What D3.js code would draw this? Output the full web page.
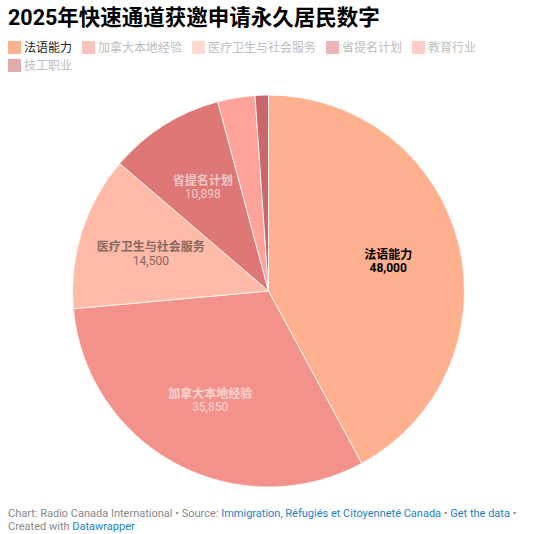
<!DOCTYPE html>
<html>
<head>
<meta charset="utf-8">
<script src="https://cdn.jsdelivr.net/npm/d3@7"></script>
<style>
  body { margin: 0; background: #fff; }
  svg { display: block; }
</style>
</head>
<body>
<div id="chart"></div>
<script>
// data
const categories = ["法语能力", "加拿大本地经验", "医疗卫生与社会服务", "省提名计划", "教育行业", "技工职业"];
const values = [48000, 35850, 14500, 10898, 3500, 1250];
const colors = ["#ffb08f", "#f3928a", "#ffbaa8", "#dd7876", "#ffa39a", "#c8686c"];
const labelColors = ["#000", "#fff", "#333", "#fff", "#333", "#fff"];
const showLabel = [true, true, true, true, false, false];
const highlighted = "法语能力";

const title = "2025年快速通道获邀申请永久居民数字";

const width = 533;
const height = 534;
const font = "Roboto, 'Noto Sans CJK SC', sans-serif";

const svg = d3.select("#chart")
    .append("svg")
    .attr("width", width)
    .attr("height", height)
    .style("font-family", font);

// title
svg.append("text")
    .attr("x", 8)
    .attr("y", 25)
    .attr("font-size", 21.5)
    .attr("font-weight", "bold")
    .attr("fill", "#000")
    .text(title);

// legend (wraps like the original)
const legend = svg.append("g");
let lx = 8, ly = 41;
categories.forEach((c, i) => {
    const g = legend.append("g");
    const active = c === highlighted;
    const t = g.append("text")
        .attr("font-size", 12)
        .attr("fill", active ? "#222" : "#bdbdbd")
        .text(c);
    const w = 16 + t.node().getComputedTextLength();
    if (lx + w > width - 8) { lx = 8; ly += 18; }
    g.append("rect")
        .attr("x", lx).attr("y", ly)
        .attr("width", 13).attr("height", 13)
        .attr("fill", colors[i])
        .attr("opacity", active ? 1 : 0.55);
    t.attr("x", lx + 16).attr("y", ly + 11);
    lx += w + 10;
});

// pie
const cx = 268.5, cy = 291, r = 196;

const pie = d3.pie().sort(null).value(d => d.value);
const arcs = pie(categories.map((c, i) => ({ name: c, value: values[i], i })));

const arc = d3.arc().innerRadius(0).outerRadius(r);
const labelArc = d3.arc().innerRadius(r * 0.63).outerRadius(r * 0.63);

const g = svg.append("g").attr("transform", `translate(${cx},${cy})`);

g.selectAll("path")
    .data(arcs)
    .join("path")
    .attr("d", arc)
    .attr("fill", d => colors[d.data.i])
    .attr("stroke", "#fff")
    .attr("stroke-width", 1)
    .attr("stroke-opacity", 0.8);

const fmt = d3.format(",");

const labels = g.selectAll("g.lbl")
    .data(arcs.filter(d => showLabel[d.data.i]))
    .join("g")
    .attr("class", "lbl")
    .attr("transform", d => `translate(${labelArc.centroid(d)})`)
    .attr("text-anchor", "middle")
    .attr("font-size", 12)
    .attr("fill", d => labelColors[d.data.i])
    .attr("opacity", d => d.data.name === highlighted ? 1 : 0.6);

labels.append("text")
    .attr("y", -2)
    .attr("font-weight", "bold")
    .text(d => d.data.name);

labels.append("text")
    .attr("y", 11.5)
    .attr("font-weight", d => d.data.name === highlighted ? "bold" : "normal")
    .text(d => fmt(d.data.value));

// footer
const foot = svg.append("g").attr("font-size", 11).attr("fill", "#888");
const line1 = foot.append("text").attr("x", 8).attr("y", 517);
line1.append("tspan").text("Chart: Radio Canada International • Source: ");
line1.append("tspan").attr("fill", "#1d81c4").text("Immigration, Réfugiés et Citoyenneté Canada");
line1.append("tspan").text(" • ");
line1.append("tspan").attr("fill", "#1d81c4").text("Get the data");
line1.append("tspan").text(" •");
const line2 = foot.append("text").attr("x", 8).attr("y", 530);
line2.append("tspan").text("Created with ");
line2.append("tspan").attr("fill", "#1d81c4").text("Datawrapper");
</script>
</body>
</html>
